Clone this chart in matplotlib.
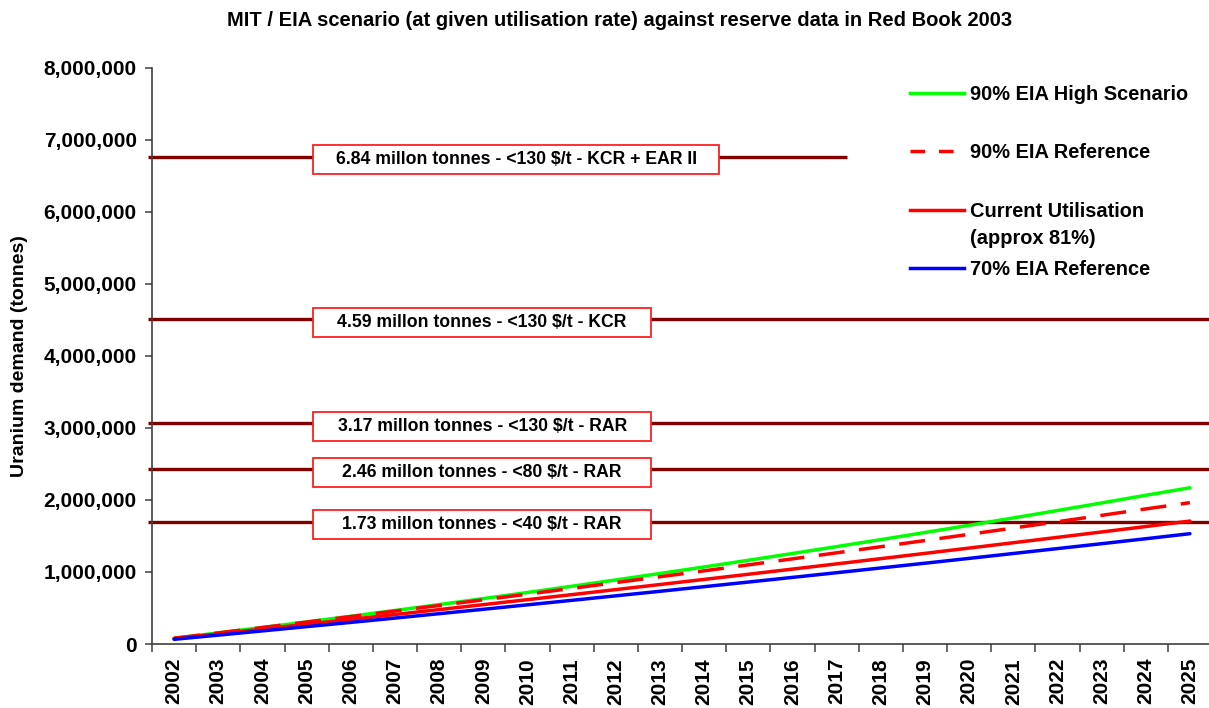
import matplotlib
matplotlib.use('Agg')
import matplotlib.pyplot as plt
from matplotlib.lines import Line2D
from matplotlib.patches import Rectangle
from matplotlib.ticker import FuncFormatter, FixedLocator

plt.rcParams['font.family'] = ['Liberation Sans', 'DejaVu Sans']
plt.rcParams['font.weight'] = 'bold'

years = ['2002', '2003', '2004', '2005', '2006', '2007', '2008', '2009', '2010', '2011', '2012', '2013',
         '2014', '2015', '2016', '2017', '2018', '2019', '2020', '2021', '2022', '2023', '2024', '2025']

high_90 = [80000, 154000, 229500, 306600, 385200, 465400, 547100, 630400, 715200, 801600, 889500, 979000,
           1070000, 1162600, 1256700, 1352400, 1449600, 1548400, 1648700, 1750600, 1854000, 1959000, 2065500, 2170000]
ref_90 = [80000, 154000, 228700, 304200, 380400, 457300, 534900, 613300, 692400, 772200, 852700, 934000,
          1016000, 1098700, 1182200, 1266400, 1351300, 1436900, 1523300, 1610400, 1698200, 1786700, 1876000, 1963000]
current = [75000, 141000, 207500, 274400, 341800, 409600, 477900, 546600, 615800, 685400, 755500, 826000,
           897000, 968400, 1040300, 1112600, 1185400, 1258600, 1332300, 1406400, 1481000, 1556000, 1631500, 1707500]
ref_70 = [65000, 123000, 182000, 241000, 300000, 360000, 421000, 482000, 544000, 606000, 669000, 732000,
          796000, 860000, 925000, 990000, 1056000, 1122000, 1189000, 1257000, 1325000, 1393000, 1462000, 1532000]

series_labels = ['90% EIA High Scenario', '90% EIA Reference', 'Current Utilisation', '70% EIA Reference']
series_note = '(approx 81%)'

reserve_values = [6770000, 4510000, 3070000, 2430000, 1700000]
reserve_labels = ['6.84 millon tonnes - <130 $/t - KCR + EAR II',
                  '4.59 millon tonnes - <130 $/t - KCR',
                  '3.17 millon tonnes - <130 $/t - RAR',
                  '2.46 millon tonnes - <80 $/t - RAR',
                  '1.73 millon tonnes - <40 $/t - RAR']

title = 'MIT / EIA scenario (at given utilisation rate) against reserve data in Red Book 2003'
ylabel = 'Uranium demand (tonnes)'

W, H = 1209, 708
fig = plt.figure(figsize=(W / 100, H / 100), dpi=100)
ax = fig.add_axes([152 / W, 64 / H, (1212 - 152) / W, 576 / H])

x = list(range(len(years)))
ax.set_xlim(-0.5, len(years) - 0.5)
ax.set_ylim(0, 8000000)

# reserve lines
line_ends = [15.24, 23.6, 23.6, 23.6, 23.6]
box_right = [12.34, 10.8, 10.8, 10.8, 10.8]
for val, lab, xe, br in zip(reserve_values, reserve_labels, line_ends, box_right):
    ax.hlines(val, -0.59, xe, colors='#800000', linewidth=2.4, zorder=2, clip_on=False)
    yc = val - 45000
    bh = 400000
    ax.add_patch(Rectangle((3.15, yc - bh / 2), br - 3.15, bh, facecolor='white',
                           edgecolor='#ff2020', linewidth=1.3, zorder=4))
    ax.text((3.15 + br) / 2, yc, lab, ha='center', va='center', fontsize=12.7,
            fontweight='bold', zorder=5)

lw = 2.5
ax.plot(x, high_90, color='#00ff00', linewidth=lw, zorder=3, solid_capstyle='round')
ax.plot(x, ref_90, color='#ff0000', linewidth=lw, dashes=(7.5, 4.2), zorder=3)
ax.plot(x, current, color='#ff0000', linewidth=lw, zorder=3, solid_capstyle='round')
ax.plot(x, ref_70, color='#0000ff', linewidth=lw, zorder=3, solid_capstyle='round')

# axes styling
for s in ['top', 'right']:
    ax.spines[s].set_visible(False)
for s in ['left', 'bottom']:
    ax.spines[s].set_color('#404040')
    ax.spines[s].set_linewidth(1.2)

ax.yaxis.set_major_locator(FixedLocator([i * 1000000 for i in range(9)]))
ax.yaxis.set_major_formatter(FuncFormatter(lambda v, p: f'{int(v):,}'))
ax.tick_params(axis='y', direction='out', length=5, width=1.1, color='#404040', pad=6,
               labelsize=15)
for t in ax.get_yticklabels():
    t.set_fontweight('bold')

ax.xaxis.set_major_locator(FixedLocator([i - 0.5 for i in range(len(years) + 1)]))
ax.xaxis.set_major_formatter(FuncFormatter(lambda v, p: ''))
ax.xaxis.set_minor_locator(FixedLocator(x))
ax.set_xticks(x, years, minor=True)
ax.tick_params(axis='x', which='major', direction='out', length=6, width=1.1, color='#404040')
ax.tick_params(axis='x', which='minor', length=0, pad=10, labelsize=15, labelrotation=90)
for t in ax.get_xticklabels(minor=True):
    t.set_fontweight('bold')

fig.text(620 / W, 1 - 20 / H, title, ha='center', va='center', fontsize=14.5, fontweight='bold')
fig.text(20 / W, 1 - 356 / H, ylabel, ha='center', va='center', rotation=90,
         fontsize=14, fontweight='bold')

handles = [Line2D([], [], color='#00ff00', linewidth=lw),
           Line2D([], [], color='#ff0000', linewidth=lw, dashes=(4.2, 4)),
           Line2D([], [], color='#ff0000', linewidth=lw),
           Line2D([], [], color='#0000ff', linewidth=lw)]
leg = fig.legend(handles, series_labels, loc='upper left', bbox_to_anchor=(910 / W, 1 - 85 / H),
                 frameon=False, fontsize=14.4, handlelength=2.7, handletextpad=0.3,
                 labelspacing=1.97, borderpad=0, borderaxespad=0)
for t in leg.get_texts():
    t.set_fontweight('bold')
fig.text(970 / W, 1 - 239 / H, series_note, ha='left', va='center', fontsize=14.4, fontweight='bold')

fig.savefig('out.png', dpi=100)
